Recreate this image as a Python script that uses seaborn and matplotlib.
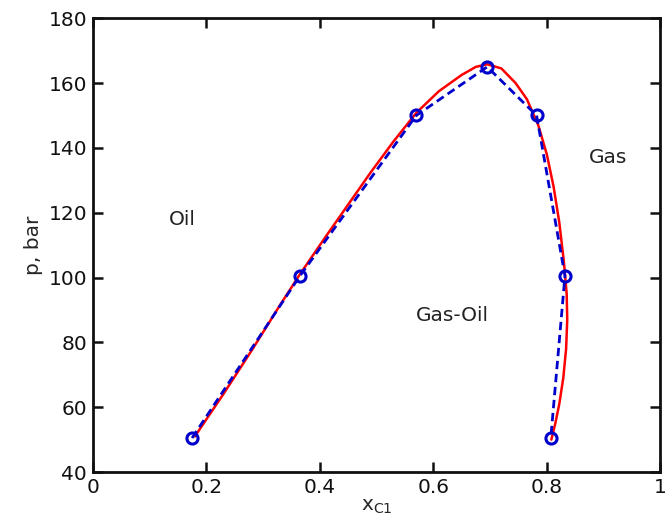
import matplotlib
matplotlib.use("Agg")
import matplotlib.pyplot as plt
import seaborn as sns
import pandas as pd

# Measured points (blue circles)
x_meas = [0.175, 0.365, 0.57, 0.695, 0.782, 0.832, 0.807]
p_meas = [50.5, 100.5, 150, 165, 150, 100.5, 50.5]

# Model envelope (red curve)
x_model = [0.18, 0.23, 0.28, 0.33, 0.365, 0.41, 0.45, 0.49, 0.53, 0.57, 0.61, 0.65,
           0.675, 0.695, 0.72, 0.745, 0.765, 0.785, 0.80, 0.812, 0.822, 0.83, 0.835,
           0.836, 0.834, 0.829, 0.822, 0.815, 0.808]
p_model = [51, 64, 77.5, 91.5, 101, 112.5, 122.5, 132.5, 142, 150.8, 157.5, 162.5,
           165, 165.8, 164.5, 160, 155, 147, 138, 128, 117, 105, 95,
           87, 78, 69, 61, 55, 50]

regions = ["Oil", "Gas-Oil", "Gas"]
region_x = [0.157, 0.633, 0.908]
region_p = [118, 88.4, 137]

sns.set_style("white")
plt.rcParams["font.family"] = ["DejaVu Sans"]

fig = plt.figure(figsize=(6.67, 5.21), dpi=100)
ax = fig.add_axes([0.139, 0.094, 0.851, 0.871])

df_model = pd.DataFrame({"x": x_model, "p": p_model})
df_meas = pd.DataFrame({"x": x_meas, "p": p_meas})

sns.lineplot(data=df_model, x="x", y="p", sort=False, estimator=None,
             color="#ff0000", linewidth=1.8, ax=ax)
sns.lineplot(data=df_meas, x="x", y="p", sort=False, estimator=None,
             color="#0000cc", linewidth=2.0, linestyle=(0, (3, 1.7)),
             marker="o", markersize=8, markerfacecolor="none",
             markeredgecolor="#0000cc", markeredgewidth=2.2, ax=ax)

for t, xx, yy in zip(regions, region_x, region_p):
    ax.text(xx, yy, t, fontsize=14.5, ha="center", va="center", color="#222222")

ax.set_xlim(0, 1)
ax.set_ylim(40, 180)
ax.set_xticks([0, 0.2, 0.4, 0.6, 0.8, 1])
ax.set_xticklabels(["0", "0.2", "0.4", "0.6", "0.8", "1"])
ax.set_yticks([40, 60, 80, 100, 120, 140, 160, 180])
ax.tick_params(direction="in", length=7, width=1.8, labelsize=14.5, top=True, right=True,
               bottom=True, left=True, colors="#111111", pad=4)
for s in ax.spines.values():
    s.set_visible(True)
    s.set_color("#111111")
    s.set_linewidth(2)
ax.set_xlabel(r"x$_{\mathregular{C1}}$", fontsize=14.5, labelpad=0)
ax.set_ylabel("p, bar", fontsize=14.5, labelpad=4)

fig.savefig("out.png", dpi=100)
